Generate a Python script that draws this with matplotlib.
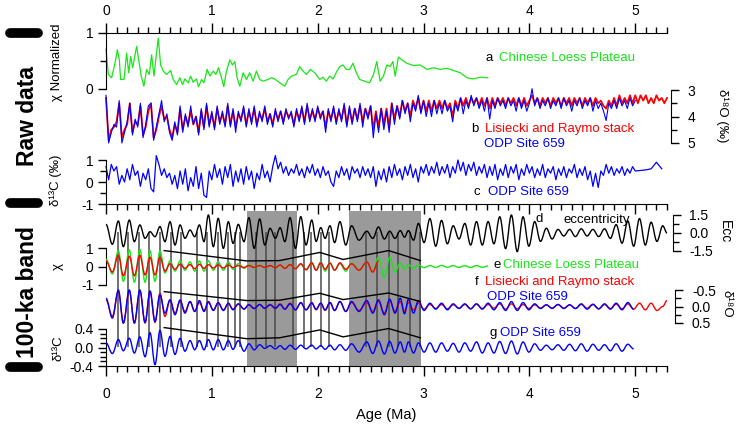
import numpy as np
import matplotlib
matplotlib.use("Agg")
import matplotlib.pyplot as plt
from matplotlib.path import Path
from matplotlib.patches import PathPatch
from matplotlib.lines import Line2D
from matplotlib import transforms

plt.rcParams['font.family'] = ['Liberation Sans', 'DejaVu Sans']
plt.rcParams['axes.unicode_minus'] = False

GREEN = '#19e619'
RED = '#ff0000'
BLUE = '#0000ff'

# ---------------- raw data ----------------
# a: Chinese Loess Plateau, normalized susceptibility
loess_age = [0.0, 0.022, 0.053, 0.085, 0.107, 0.126, 0.138, 0.17, 0.195, 0.214, 0.233, 0.252,
             0.289, 0.314, 0.333, 0.358, 0.384, 0.409, 0.431, 0.453, 0.472, 0.494, 0.516, 0.541,
             0.572, 0.61, 0.635, 0.667, 0.698, 0.723, 0.745, 0.777, 0.799, 0.824, 0.855, 0.874,
             0.903, 0.925, 0.956, 0.981, 1.013, 1.038, 1.063, 1.091, 1.113, 1.138, 1.17, 1.195,
             1.217, 1.239, 1.264, 1.296, 1.327, 1.358, 1.39, 1.421, 1.453, 1.484, 1.531, 1.563,
             1.594, 1.642, 1.689, 1.72, 1.752, 1.799, 1.83, 1.862, 1.893, 1.931, 1.972, 2.019,
             2.05, 2.082, 2.113, 2.145, 2.182, 2.208, 2.239, 2.27, 2.302, 2.333, 2.365, 2.396,
             2.443, 2.49, 2.527, 2.558, 2.59, 2.621, 2.653, 2.685, 2.71, 2.732, 2.763, 2.795,
             2.842, 2.905, 2.968, 3.032, 3.095, 3.158, 3.221, 3.284, 3.347, 3.41, 3.473, 3.536, 3.606]
loess_chi = [0.71, 0.26, 0.2, 0.46, 0.70, 0.52, 0.17, 0.17, 0.64, 0.29, 0.58, 0.38,
             0.76, 0.46, 0.23, 0.05, 0.35, 0.26, 0.61, 0.23, 0.55, 0.91, 0.43, 0.32,
             0.26, 0.33, 0.17, 0.08, 0.2, 0.08, 0.18, 0.11, 0.23, 0.12, 0.18, 0.04,
             0.17, 0.11, 0.35, 0.23, 0.32, 0.26, 0.38, 0.2, 0.04, 0.32, 0.52, 0.43,
             0.49, 0.2, 0.05, 0.29, 0.17, 0.29, 0.14, 0.32, 0.17, 0.14, 0.17, 0.2,
             0.18, 0.11, 0.05, 0.17, 0.23, 0.26, 0.4, 0.32, 0.26, 0.35, 0.29, 0.17,
             0.21, 0.14, 0.23, 0.18, 0.32, 0.4, 0.43, 0.35, 0.35, 0.46, 0.29, 0.17,
             0.14, 0.11, 0.26, 0.49, 0.14, 0.23, 0.43, 0.4, 0.49, 0.23, 0.57, 0.52,
             0.46, 0.42, 0.43, 0.35, 0.38, 0.35, 0.37, 0.33, 0.29, 0.2, 0.18, 0.21, 0.2]

# b: benthic d18O, sampled every 0.025 Ma
step = 0.025
lr04_d18o = [3.3, 4.9, 4.5, 4.4, 4.2, 3.5, 4.8, 4.5, 4.3, 3.5, 4.6, 4.2, 4.3, 3.6, 4.7, 4.4,
             3.8, 3.5, 4.8, 4.5, 4.0, 3.6, 4.1, 4.0, 4.5, 4.8, 4.3, 4.6, 3.7, 4.5, 4.0, 4.3,
             3.8, 4.3, 4.0, 4.6, 3.8, 4.4, 3.6, 4.3, 3.9, 4.4, 3.7, 4.2, 3.9, 4.3, 3.6, 4.3,
             3.8, 4.4, 3.9, 4.1, 3.7, 4.3, 3.8, 4.2, 3.7, 4.3, 3.9, 4.1, 3.7, 4.2, 3.9, 4.3,
             3.8, 4.1, 3.8, 4.2, 3.8, 4.0, 3.9, 4.3, 3.8, 4.1, 3.7, 4.2, 3.6, 4.1, 3.8, 4.1,
             3.7, 4.0, 3.8, 4.4, 3.8, 4.1, 3.7, 4.2, 3.8, 4.1, 3.6, 4.3, 3.7, 4.2, 3.7, 4.1,
             3.6, 4.2, 3.7, 4.0, 3.6, 4.5, 3.8, 4.4, 3.7, 4.3, 3.7, 4.4, 3.5, 4.1, 3.6, 4.0,
             3.4, 3.8, 3.5, 4.0, 3.4, 3.7, 3.3, 3.8, 3.4, 3.8, 3.4, 3.8, 3.4, 3.7, 3.4, 3.7,
             3.4, 3.7, 3.5, 4.0, 3.4, 3.7, 3.3, 3.6, 3.3, 3.6, 3.3, 3.5, 3.3, 3.6, 3.3, 3.6,
             3.3, 3.7, 3.3, 3.6, 3.3, 3.5, 3.3, 3.6, 3.3, 3.5, 3.3, 3.6, 3.3, 3.6, 3.3, 3.6,
             3.4, 3.2, 3.5, 3.3, 3.6, 3.3, 3.5, 3.3, 3.6, 3.3, 3.5, 3.3, 3.6, 3.3, 3.5, 3.3,
             3.6, 3.3, 3.5, 3.3, 3.6, 3.3, 3.5, 3.3, 3.6, 3.3, 3.5, 3.4, 3.6, 3.7, 3.4, 3.6,
             3.3, 3.6, 3.2, 3.5, 3.3, 3.5, 3.2, 3.5, 3.2, 3.5, 3.2, 3.4, 3.2, 3.5, 3.3, 3.5,
             3.2, 3.4, 3.3, 3.5, 3.3]
odp_d18o = [3.2, 5.0, 4.6, 4.3, 4.4, 3.4, 5.0, 4.6, 4.2, 3.5, 4.7, 4.1, 4.4, 3.5, 4.8, 4.3,
            3.6, 3.5, 4.9, 4.4, 3.9, 3.4, 4.2, 3.9, 4.6, 4.9, 4.2, 4.7, 3.6, 4.6, 3.9, 4.4,
            3.6, 4.3, 4.0, 4.7, 3.7, 4.5, 3.5, 4.4, 3.8, 4.5, 3.6, 4.3, 3.8, 4.4, 3.5, 4.4,
            3.7, 4.6, 3.8, 4.2, 3.6, 4.4, 3.7, 4.3, 3.6, 4.4, 3.8, 4.2, 3.6, 4.3, 3.9, 4.4,
            3.7, 4.2, 3.8, 4.3, 3.7, 4.1, 3.8, 4.4, 3.7, 4.2, 3.6, 4.3, 3.5, 4.2, 3.7, 4.2,
            3.6, 4.1, 3.8, 4.6, 3.7, 4.2, 3.6, 4.3, 3.7, 4.2, 3.5, 4.4, 3.6, 4.3, 3.7, 4.2,
            3.5, 4.4, 3.7, 4.1, 3.6, 4.8, 3.9, 4.6, 3.7, 4.5, 3.8, 4.6, 3.5, 4.3, 3.6, 4.1,
            3.4, 3.9, 3.5, 4.2, 3.5, 3.8, 3.2, 3.9, 3.4, 4.0, 3.5, 4.0, 3.4, 3.9, 3.5, 3.9,
            3.4, 3.8, 3.6, 4.2, 3.5, 3.8, 3.3, 3.9, 3.4, 3.7, 3.2, 3.6, 3.3, 3.7, 3.4, 3.8,
            3.3, 4.1, 3.4, 3.7, 3.3, 3.6, 3.4, 3.7, 3.3, 3.6, 3.4, 3.8, 3.3, 3.7, 3.4, 3.8,
            3.5, 2.95, 3.6, 3.3, 3.7, 3.4, 3.6, 3.3, 3.7, 3.4, 3.6, 3.3, 3.7, 3.3, 3.6, 3.4,
            3.8, 3.4, 3.6, 3.3, 3.7, 3.4, 3.6, 3.3, 3.8, 3.4, 3.7, 3.5, 3.8, 4.15, 3.5, 3.7,
            3.4, 3.7, 3.3, 3.6, 3.4, 3.7, 3.3, 3.6, 3.4]

# c: benthic d13C, ODP 659
odp_d13c = [0.7, 0.1, 0.8, 0.5, 0.7, -0.1, 0.3, 0.0, 0.6, 0.1, 0.8, 0.3, 0.5, -0.2, 0.4, 0.1,
            0.6, -0.3, -0.45, 1.2, 0.8, 0.3, 0.6, 0.2, 0.4, -0.1, 0.3, -0.3, 0.5, -0.1, 0.6, -0.4,
            0.2, -0.2, 0.7, -0.3, 0.4, -0.6, -0.7, 0.5, 0.1, 0.8, 0.2, 0.6, -0.1, 0.7, 0.2, 0.8,
            -0.2, 0.5, 0.0, 0.6, -0.1, 0.7, 0.1, 0.5, -0.3, 0.4, 0.1, 0.8, 0.2, 0.5, 0.0, 0.7,
            1.2, 0.6, 0.9, 0.4, 0.7, 0.3, 0.6, 0.4, 0.8, 0.3, 0.6, 0.2, 0.7, 0.4, 0.8, 0.3,
            0.6, 0.2, 0.7, 0.3, 0.5, 0.0, -0.2, 0.5, 0.2, 0.7, 0.3, 0.6, 0.1, 0.7, 0.4, 0.6,
            0.2, 0.7, 0.3, 0.6, 0.2, 0.7, -0.2, 0.5, 0.1, 0.6, 0.0, 0.7, 0.2, 0.8, 0.3, 0.6,
            0.1, 0.7, 0.3, 0.8, 0.2, 0.6, 0.0, 0.7, 0.4, 0.8, 0.3, 0.7, 0.4, 0.9, 0.3, 0.7,
            0.4, 0.8, 0.2, 0.7, 0.4, 1.0, 0.5, 0.9, 0.3, 0.8, 0.5, 0.9, 0.3, 0.7, 0.4, 0.8,
            0.2, 0.7, 0.3, 0.8, 0.1, 0.6, 0.3, 0.8, 0.2, 0.7, 0.4, 0.8, 0.1, 0.6, 0.3, 0.8,
            0.4, 0.7, 0.2, 0.6, 0.3, 0.8, 0.2, 0.6, 0.4, 0.7, 0.1, 0.6, 0.3, 0.7, 0.2, 0.6,
            0.4, 0.8, 0.2, 0.6, 0.3, 0.7, 0.1, 0.5, -0.2, 0.4, -0.25, 0.5, 0.3, 0.8, 0.4, 0.7,
            0.3, 0.6, 0.4, 0.7, 0.3, 0.6, 0.4, 0.7, 0.5]
d13c_tail_age = [5.1, 5.15, 5.2, 5.25]
d13c_tail = [0.55, 0.6, 0.9, 0.6]

# ---------------- 100-ka band ----------------
# turning points (Ma) of the filtered records
t100 = [0.0, 0.06, 0.117, 0.164, 0.22, 0.268, 0.32, 0.369, 0.416, 0.463, 0.51, 0.557,
        0.605, 0.652, 0.70, 0.746, 0.794, 0.838, 0.882, 0.926, 0.967, 1.014, 1.06, 1.109,
        1.156, 1.20, 1.25, 1.304, 1.35, 1.40, 1.452, 1.50, 1.55, 1.60, 1.645, 1.69,
        1.739, 1.79, 1.84, 1.89, 1.944, 1.985, 2.029, 2.07, 2.116, 2.16, 2.21, 2.265,
        2.32, 2.39, 2.464, 2.52, 2.574, 2.63, 2.68, 2.73, 2.78, 2.82, 2.857, 2.905,
        2.952, 3.005, 3.06, 3.115, 3.17, 3.225, 3.28, 3.335, 3.39, 3.445, 3.50, 3.555,
        3.61, 3.665, 3.72, 3.775, 3.83, 3.885, 3.94, 3.995, 4.05, 4.105, 4.16, 4.215,
        4.27, 4.325, 4.38, 4.435, 4.49, 4.545, 4.60, 4.655, 4.71, 4.765, 4.82, 4.875,
        4.93, 4.985, 5.04, 5.095, 5.15, 5.205, 5.26, 5.30]
ecc = [0.72, -0.94, 1.0, -1.14, 1.08, -0.72, 0.67, -0.44, 0.11, -0.31, 0.53, -0.72,
       0.94, -1.0, 0.67, -0.44, 0.25, -0.31, 0.67, -0.72, 1.5, -1.14, 1.22, -1.28,
       0.94, -0.86, 0.72, -0.72, 1.28, -1.28, 1.17, -1.0, 0.39, -0.44, 0.44, -0.72,
       1.28, -1.28, 1.36, -1.0, 1.08, -0.7, 0.45, -0.45, 0.6, -0.8, 0.95, -1.0,
       0.6, -0.6, 0.15, -0.45, 0.5, -0.5, 0.15, -0.45, 0.2, -0.35, 0.2, -0.6,
       0.8, -0.8, 1.2, -1.1, 1.05, -0.9, 0.6, -0.5, 0.8, -1.0, 0.95, -1.0,
       0.95, -0.9, 1.35, -1.3, 1.5, -1.55, 1.35, -1.1, 0.95, -0.7, 0.4, -0.5,
       0.3, -0.25, 0.3, -0.3, 0.35, -0.25, 0.3, -0.3, 0.35, -0.45, 0.7, -0.85,
       1.0, -1.1, 1.2, -1.0, 0.9, -0.7, 0.6, 0.0]
chi_band = [0.4, -0.4, 0.85, -0.8, 0.9, -0.85, 0.92, -0.85, 0.85, -0.8, 0.85, -0.35,
            0.3, -0.25, 0.3, -0.2, 0.25, -0.25, 0.3, -0.25, 0.3, -0.2, 0.25, -0.2,
            0.25, -0.15, 0.15, -0.1, 0.1, -0.08, 0.08, -0.08, 0.05, -0.05, 0.06, -0.08,
            0.1, -0.1, 0.12, -0.15, 0.2, -0.2, 0.25, -0.25, 0.2, -0.2, 0.15, -0.25,
            0.2, -0.2, 0.25, -0.3, 0.5, -0.6, 0.5, -0.3, 0.2, -0.15, 0.1, -0.1,
            0.08, -0.06, 0.05, -0.05, 0.06, -0.04, 0.05, -0.05, 0.04, -0.05, 0.05, -0.04, 0.03]
lr04_on_chi = [0.3, -0.3, 0.6, -0.5, 0.55, -0.5, 0.6, -0.45, 0.5, -0.45, 0.5, -0.25,
               0.15, -0.15, 0.12, -0.1, 0.1, -0.12, 0.12, -0.1, 0.1, -0.08, 0.08, -0.08,
               0.08, -0.06, 0.05, -0.05, 0.05, -0.05, 0.05, -0.05, 0.05, -0.06, 0.08, -0.1,
               0.1, -0.12, 0.15, -0.18, 0.2, -0.2, 0.2, -0.15, 0.18, -0.2, 0.2, -0.15,
               0.15, -0.2, 0.25, -0.3, 0.3]
lr04_band = [-0.2, 0.3, -0.45, 0.5, -0.48, 0.5, -0.48, 0.5, -0.45, 0.48, -0.4, 0.3,
             -0.2, 0.2, -0.15, 0.15, -0.15, 0.15, -0.12, 0.12, -0.12, 0.1, -0.1, 0.1,
             -0.08, 0.08, -0.07, 0.07, -0.06, 0.06, -0.06, 0.06, -0.06, 0.06, -0.08, 0.08,
             -0.1, 0.1, -0.1, 0.1, -0.12, 0.1, -0.1, 0.12, -0.12, 0.12, -0.15, 0.15,
             -0.12, 0.12, -0.12, 0.15, -0.15, 0.2, -0.18, 0.15, -0.15, 0.15, -0.12, 0.1,
             -0.1, 0.08, -0.06, 0.06, -0.06, 0.07, -0.05, 0.05, -0.06, 0.07, -0.07, 0.06,
             -0.06, 0.05, -0.08, 0.08, -0.08, 0.07, -0.06, 0.06, -0.05, 0.05, -0.05, 0.06,
             -0.06, 0.05, -0.05, 0.06, -0.06, 0.05, -0.07, 0.07, -0.06, 0.06, -0.07, 0.07,
             -0.08, 0.08, -0.1, 0.1, -0.1, 0.12, 0.0, -0.18]
odp_d18o_band = [-0.25, 0.35, -0.5, 0.5, -0.5, 0.5, -0.5, 0.48, -0.47, 0.45, -0.35, 0.2,
                 -0.2, 0.25, -0.2, 0.2, -0.15, 0.15, -0.18, 0.15, -0.15, 0.12, -0.12, 0.12,
                 -0.1, 0.1, -0.08, 0.08, -0.05, 0.06, -0.06, 0.05, -0.05, 0.05, -0.06, 0.08,
                 -0.08, 0.1, -0.12, 0.1, -0.1, 0.08, -0.1, 0.1, -0.12, 0.12, -0.15, 0.15,
                 -0.15, 0.15, -0.18, 0.2, -0.2, 0.25, -0.22, 0.2, -0.25, 0.22, -0.22, 0.2,
                 -0.18, 0.12, -0.1, 0.08, -0.1, 0.1, -0.08, 0.06, -0.08, 0.07, -0.08, 0.08,
                 -0.1, 0.1, -0.12, 0.12, -0.15, 0.12, -0.12, 0.1, -0.08, 0.06, -0.05, 0.05,
                 -0.06, 0.06, -0.05, 0.06, -0.08, 0.08, -0.06, 0.07, -0.08, 0.08, -0.1, 0.1,
                 -0.12, 0.08]
odp_d13c_band = [0.1, -0.13, 0.17, -0.07, 0.2, -0.12, 0.23, -0.2, 0.32, -0.37, 0.37, -0.19,
                 0.24, -0.15, 0.2, -0.08, 0.15, -0.05, 0.15, -0.05, 0.17, -0.05, 0.17, -0.05,
                 0.15, -0.04, 0.15, -0.08, 0.08, -0.05, 0.06, -0.02, 0.04, -0.03, 0.04, -0.04,
                 0.05, -0.04, 0.05, -0.03, 0.05, -0.03, 0.04, -0.04, 0.05, -0.05, 0.06, -0.06,
                 0.08, -0.1, 0.12, -0.13, 0.14, -0.14, 0.13, -0.12, 0.12, -0.1, 0.12, -0.12,
                 0.1, -0.1, 0.1, -0.1, 0.1, -0.08, 0.09, -0.1, 0.1, -0.08, 0.12, -0.12,
                 0.1, -0.12, 0.13, -0.13, 0.14, -0.14, 0.12, -0.1, 0.08, -0.06, 0.05, -0.05,
                 0.06, -0.06, 0.07, -0.07, 0.08, -0.08, 0.07, -0.06, 0.06, -0.07, 0.08, -0.08,
                 0.07, -0.03]

# amplitude trend lines drawn across panels e, f, g
trend_age = [0.55, 1.33, 1.64, 2.02, 2.24, 2.67, 2.97]
trend_chi = [0.86, 0.3, 0.32, 0.76, 0.38, 0.86, 0.32]
trend_d18o = [-0.45, -0.18, -0.19, -0.4, -0.21, -0.41, -0.15]
trend_d13c = [0.43, 0.19, 0.21, 0.38, 0.23, 0.41, 0.21]

# tie lines and shaded intervals
tie_ages = [0.11, 0.21, 0.31, 0.41, 0.51, 0.61, 0.71, 0.86, 0.95, 1.06, 1.15, 1.22, 1.27,
            1.42, 1.51, 1.60, 1.77, 1.87, 1.94, 2.03, 2.11, 2.46, 2.56, 2.67, 2.76, 2.87, 2.97]
shade = [(1.33, 1.80), (2.30, 2.98)]

# ---------------- figure ----------------
FW, FH = 737, 425
fig = plt.figure(figsize=(FW / 100, FH / 100), dpi=100)
L, R = 106, 667
XMAX = 5.3


def fx(px):
    return px / FW


def fy(py):
    return 1 - py / FH


def panel(ptop, pbot, vtop, vbot):
    ax = fig.add_axes([fx(L), fy(pbot), (R - L) / FW, (pbot - ptop) / FH])
    ax.set_xlim(0, XMAX)
    ax.set_ylim(vbot, vtop)
    ax.patch.set_visible(False)
    for s in ax.spines.values():
        s.set_visible(False)
    ax.set_xticks([])
    ax.set_yticks([])
    return ax


def yaxis(ax, side, major, labels, minor=(), outward=0):
    sp = ax.spines[side]
    sp.set_visible(True)
    sp.set_bounds(min(major), max(major))
    sp.set_position(('outward', outward))
    if side == 'right':
        ax.yaxis.tick_right()
    else:
        ax.yaxis.tick_left()
    ax.set_yticks(major)
    ax.set_yticklabels(labels)
    ax.set_yticks(list(minor), minor=True)
    ax.tick_params(axis='y', which='major', length=6, width=1, labelsize=10,
                   pad=6 if side == 'right' else 3)
    ax.tick_params(axis='y', which='minor', length=4, width=1)


def smooth(ax, t, v, color, lw=1.0, z=3):
    verts = [(t[0], v[0])]
    codes = [Path.MOVETO]
    for i in range(len(t) - 1):
        dx = t[i + 1] - t[i]
        verts += [(t[i] + 0.36 * dx, v[i]), (t[i + 1] - 0.36 * dx, v[i + 1]), (t[i + 1], v[i + 1])]
        codes += [Path.CURVE4] * 3
    ax.add_patch(PathPatch(Path(verts, codes), fill=False, edgecolor=color, lw=lw,
                           clip_on=False, zorder=z))


# background: shaded intervals and tie lines
ax_bg = panel(204, 366, 1, 0)
for a0, a1 in shade:
    ax_bg.axvspan(a0, a1, ymin=0, ymax=(366 - 211) / (366 - 204), color='#9a9a9a', lw=0, zorder=1)
tr = transforms.blended_transform_factory(ax_bg.transData, fig.transFigure)
ax_bg.vlines(tie_ages, fy(347), fy(232), transform=tr, colors='#4a4a4a', lw=1.1,
             clip_on=False, zorder=2)

# frame with age axes
ax_top = fig.add_axes([fx(L), fy(204), (R - L) / FW, (204 - 33) / FH])
ax_bot = fig.add_axes([fx(L), fy(366), (R - L) / FW, (366 - 204) / FH])
for ax in (ax_top, ax_bot):
    ax.patch.set_visible(False)
    ax.set_xlim(0, XMAX)
    ax.set_yticks([])
    ax.spines['left'].set_visible(False)
    ax.spines['right'].set_visible(False)
    ax.set_xticks(range(6))
    ax.set_xticks(np.arange(0, 5.31, 0.1), minor=True)
    ax.tick_params(axis='x', which='major', length=7, width=1, labelsize=10)
    ax.tick_params(axis='x', which='minor', length=4, width=1)
ax_top.tick_params(axis='x', which='both', top=True, bottom=True, labeltop=True,
                   labelbottom=False, pad=4)
ax_bot.spines['top'].set_visible(False)
ax_bot.tick_params(axis='x', which='major', pad=8)
ax_bot.set_xlabel('Age (Ma)', fontsize=10.5, labelpad=5)

# a
ax_a = panel(33, 89, 1, 0)
ax_a.plot(loess_age, loess_chi, color=GREEN, lw=0.9, clip_on=False)
yaxis(ax_a, 'left', [0, 1], ['0', '1'], [0.5])

# b
ax_b = panel(90, 143, 3, 5)
ages_lr = np.arange(len(lr04_d18o)) * step
ages_odp = np.arange(len(odp_d18o)) * step
ax_b.plot(ages_lr, lr04_d18o, color=RED, lw=1.3, clip_on=False)
ax_b.plot(ages_odp, odp_d18o, color=BLUE, lw=0.8, clip_on=False)
yaxis(ax_b, 'right', [3, 4, 5], ['3', '4', '5'], [3.5, 4.5], outward=3)

# c
ax_c = panel(160, 204, 1, -1)
ages_c = np.arange(len(odp_d13c)) * step
ax_c.plot(list(ages_c) + d13c_tail_age, odp_d13c + d13c_tail, color=BLUE, lw=0.9, clip_on=False)
yaxis(ax_c, 'left', [-1, 0, 1], ['-1', '0', '1'], [-0.5, 0.5])

# d
ax_d = panel(215, 251, 1.5, -1.5)
smooth(ax_d, t100, ecc, 'black')
yaxis(ax_d, 'right', [-1.5, 0, 1.5], ['-1.5', '0.0', '1.5'], [-0.75, 0.75], outward=4)

# e
ax_e = panel(248, 285, 1, -1)
smooth(ax_e, t100[:len(chi_band)], chi_band, GREEN)
smooth(ax_e, t100[:len(lr04_on_chi)], lr04_on_chi, RED)
ax_e.plot(trend_age, trend_chi, color='black', lw=1.0, clip_on=False, zorder=4)
yaxis(ax_e, 'left', [-1, 0, 1], ['-1', '0', '1'])

# f
ax_f = panel(290, 323, -0.5, 0.5)
smooth(ax_f, t100[:len(lr04_band)], lr04_band, RED)
smooth(ax_f, t100[:len(odp_d18o_band)], odp_d18o_band, BLUE, z=4)
ax_f.plot(trend_age, trend_d18o, color='black', lw=1.0, clip_on=False, zorder=5)
yaxis(ax_f, 'right', [-0.5, 0, 0.5], ['-0.5', '0.0', '0.5'], [-0.25, 0.25], outward=6)

# g
ax_g = panel(329, 366, 0.4, -0.4)
smooth(ax_g, t100[:len(odp_d13c_band)], odp_d13c_band, BLUE)
ax_g.plot(trend_age, trend_d13c, color='black', lw=1.0, clip_on=False, zorder=4)
yaxis(ax_g, 'left', [-0.4, 0, 0.4], ['-0.4', '0.0', '0.4'], [-0.3, -0.2, -0.1, 0.1, 0.2, 0.3])

# axis titles
fs = 9.5
fig.text(fx(57), fy(62), 'χ Normalized', rotation=90, ha='center', va='center', fontsize=fs)
fig.text(fx(56), fy(180), 'δ¹³C (‰)', rotation=90, ha='center', va='center', fontsize=fs)
fig.text(fx(722), fy(116), 'δ¹⁸O (‰)', rotation=270, ha='center', va='center', fontsize=fs)
fig.text(fx(725), fy(232), 'Ecc', rotation=270, ha='center', va='center', fontsize=10)
fig.text(fx(58), fy(266), 'χ', rotation=90, ha='center', va='center', fontsize=fs)
fig.text(fx(727), fy(304), 'δ¹⁸O', rotation=270, ha='center', va='center', fontsize=fs)
fig.text(fx(58), fy(348), 'δ¹³C', rotation=90, ha='center', va='center', fontsize=fs)

# panel captions
def caption(x, y, s, color='black'):
    fig.text(fx(x), fy(y), s, color=color, ha='left', va='center', fontsize=fs)

caption(486, 58, 'a')
caption(499, 58, 'Chinese Loess Plateau', GREEN)
caption(471, 129, 'b')
caption(485, 129, 'Lisiecki and Raymo stack', RED)
caption(484, 144, 'ODP Site 659', BLUE)
caption(474, 192, 'c')
caption(488, 192, 'ODP Site 659', BLUE)
caption(536, 219, 'd')
caption(564, 220, 'eccentricity')
caption(494, 265, 'e')
caption(503, 265, 'Chinese Loess Plateau', GREEN)
caption(475, 282, 'f')
caption(485, 282, 'Lisiecki and Raymo stack', RED)
caption(487, 297, 'ODP Site 659', BLUE)
caption(490, 333, 'g')
caption(500, 333, 'ODP Site 659', BLUE)

# section labels with rounded bars
for yb in (33, 203, 367):
    fig.add_artist(Line2D([fx(10), fx(38)], [fy(yb), fy(yb)], transform=fig.transFigure,
                          color='black', lw=7, solid_capstyle='round'))
fig.text(fx(27), fy(116), 'Raw data', rotation=90, ha='center', va='center',
         fontsize=16.5, fontweight='bold')
fig.text(fx(27), fy(292), '100-ka band', rotation=90, ha='center', va='center',
         fontsize=16.5, fontweight='bold')

fig.savefig('out.png', dpi=100)
